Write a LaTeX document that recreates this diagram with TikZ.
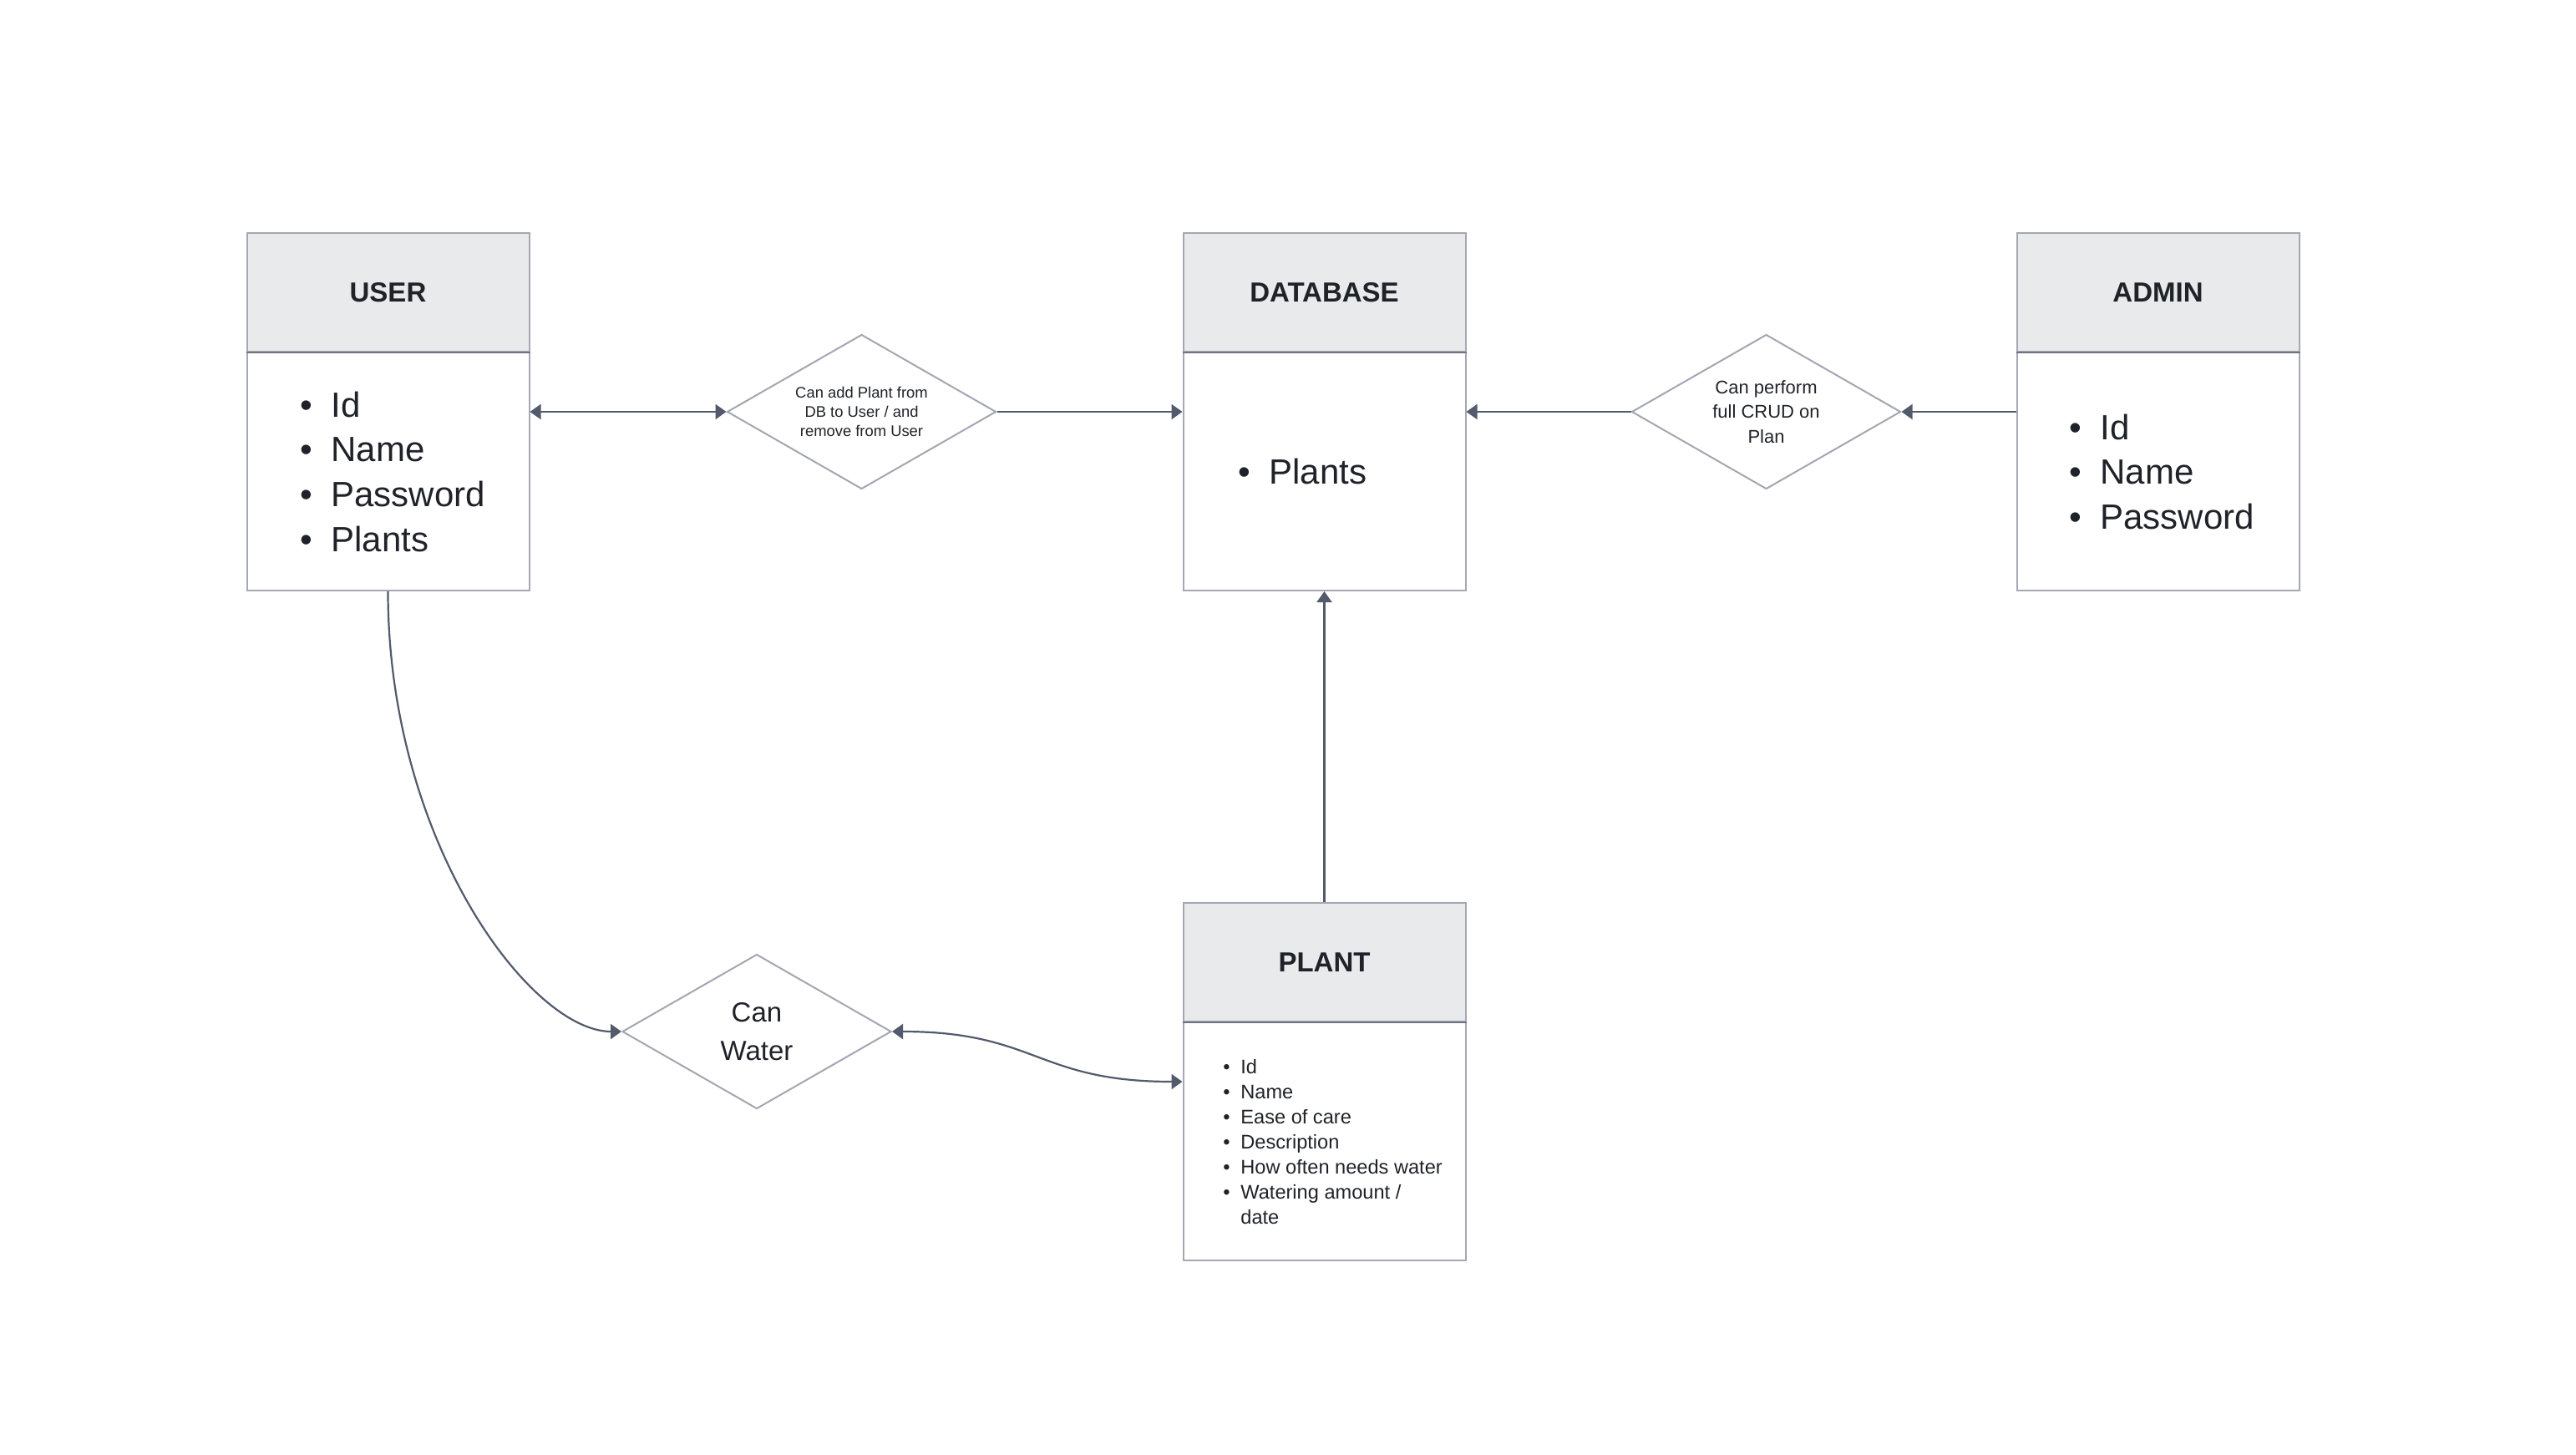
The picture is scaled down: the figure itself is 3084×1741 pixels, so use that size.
\documentclass[tikz,border=0pt]{standalone}
\usepackage{fontspec}
\setmainfont{Liberation Sans}
\usetikzlibrary{arrows.meta,shapes.geometric}
\definecolor{boxline}{HTML}{A4A8B2}
\definecolor{headfill}{HTML}{E9EAEC}
\definecolor{sepline}{HTML}{6F7585}
\definecolor{conncol}{HTML}{525A6C}
\definecolor{txt}{HTML}{1F2329}
\definecolor{dialine}{HTML}{A3A7B1}
\begin{document}
\begin{tikzpicture}[x=0.5pt,y=-0.5pt,
  entity/.style={draw=boxline,fill=white,line width=1pt,minimum width=169pt,minimum height=214pt,inner sep=0pt},
  headbox/.style={draw=boxline,fill=headfill,line width=1pt,minimum width=169pt,minimum height=71pt,inner sep=0pt,text=txt,font=\fontsize{16.5}{20}\selectfont\bfseries},
  sepl/.style={draw=sepline,line width=1.2pt},
  rel/.style={diamond,draw=dialine,line width=1pt,fill=white,minimum width=161pt,minimum height=92.5pt,inner sep=0pt},
  rellabel/.style={align=center,text=txt,inner sep=0pt},
  conn/.style={draw=conncol,line width=1.1pt},
  arr/.style={-{Triangle[length=6.5pt,width=9pt]}},
  barr/.style={{Triangle[length=6.5pt,width=9pt]}-{Triangle[length=6.5pt,width=9pt]}},
  biglist/.style={anchor=base west,inner sep=0pt,text=txt,font=\fontsize{21}{26.85}\selectfont},
  smalllist/.style={anchor=base west,inner sep=0pt,text=txt,font=\fontsize{11.8}{15}\selectfont},
]
\fill[white] (0,0) rectangle (3084,1741);
\useasboundingbox (0,0) rectangle (3084,1741);

% entities
\node[entity] (user) at (464.5,493) {};
\node[headbox] (userh) at (464.5,350) {USER};
\draw[sepl] (userh.south west) -- (userh.south east);

\node[entity] (db) at (1585.5,493) {};
\node[headbox] (dbh) at (1585.5,350) {DATABASE};
\draw[sepl] (dbh.south west) -- (dbh.south east);

\node[entity] (admin) at (2583.5,493) {};
\node[headbox] (adminh) at (2583.5,350) {ADMIN};
\draw[sepl] (adminh.south west) -- (adminh.south east);

\node[entity] (plant) at (1585.5,1295) {};
\node[headbox] (planth) at (1585.5,1152) {PLANT};
\draw[sepl] (planth.south west) -- (planth.south east);

% attribute lists
\node[biglist] (userl) at (336,499) {\begin{tabular}[t]{@{}l@{}l@{}}
\makebox[30pt]{•}&Id\\
\makebox[30pt]{•}&Name\\
\makebox[30pt]{•}&Password\\
\makebox[30pt]{•}&Plants
\end{tabular}};

\node[biglist] (dbl) at (1459,579) {\begin{tabular}[t]{@{}l@{}l@{}}
\makebox[30pt]{•}&Plants
\end{tabular}};

\node[biglist] (adminl) at (2454,526) {\begin{tabular}[t]{@{}l@{}l@{}}
\makebox[30pt]{•}&Id\\
\makebox[30pt]{•}&Name\\
\makebox[30pt]{•}&Password
\end{tabular}};

\node[smalllist] (plantl) at (1451,1285) {\begin{tabular}[t]{@{}l@{}l@{}}
\makebox[17pt]{•}&Id\\
\makebox[17pt]{•}&Name\\
\makebox[17pt]{•}&Ease of care\\
\makebox[17pt]{•}&Description\\
\makebox[17pt]{•}&How often needs water\\
\makebox[17pt]{•}&Watering amount /\\
&date
\end{tabular}};

% relationships
\node[rel] (d1) at (1031.5,493) {};
\node[rellabel,font=\fontsize{9.2}{11.5}\selectfont] (d1t) at (d1.center) {Can add Plant from\\DB to User / and\\remove from User};
\node[rel] (d2) at (2114.5,493) {};
\node[rellabel,font=\fontsize{11}{14.7}\selectfont] (d2t) at (d2.center) {Can perform\\full CRUD on\\Plan};
\node[rel] (d3) at (906,1235) {};
\node[rellabel,font=\fontsize{16.5}{23.3}\selectfont] (d3t) at (d3.center) {Can\\Water};

% connectors
\draw[conn,barr] (user.east) -- (d1.west);
\draw[conn,arr] (d1.east) -- (db.west);
\draw[conn,arr] (admin.west) -- (d2.east);
\draw[conn,arr] (d2.west) -- (db.east);
\draw[conn,arr] (plant.north) -- (db.south);
\draw[conn,arr] (user.south) .. controls (464.5,1007) and (635,1235) .. (d3.west);
\draw[conn,barr] (d3.east) .. controls (1241,1235) and (1241,1295) .. (plant.west);
\end{tikzpicture}
\end{document}
